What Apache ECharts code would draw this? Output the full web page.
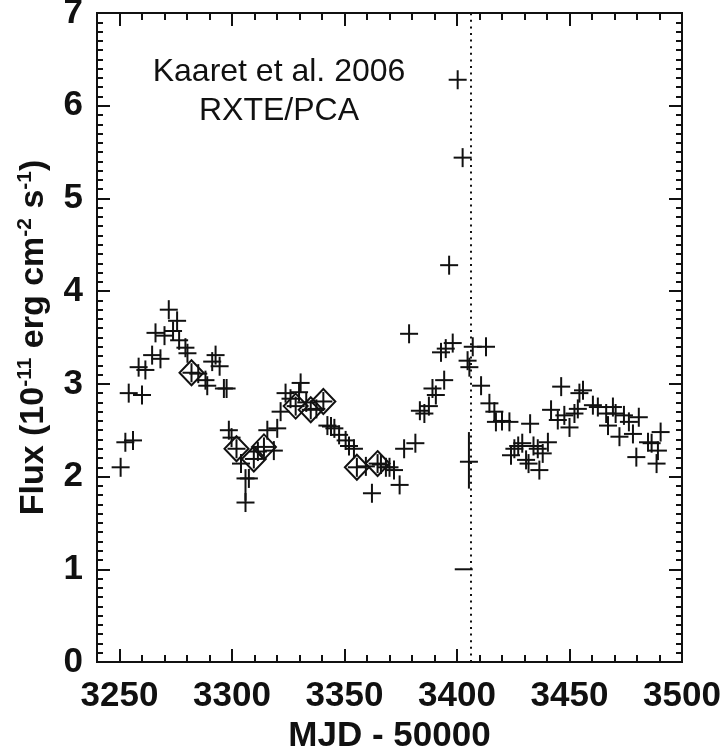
<!DOCTYPE html>
<html><head><meta charset="utf-8">
<script src="https://cdn.jsdelivr.net/npm/echarts@6/dist/echarts.min.js"></script>
<style>html,body{margin:0;padding:0;background:#fff}#c{width:724px;height:747px}</style>
</head><body><div id="c"></div>
<script>
// ---- data (MJD - 50000, flux in 1e-11 erg cm^-2 s^-1) ----
const mjd = [3250.5,3252.6,3254.1,3256.0,3258.5,3260.0,3261.5,3264.5,3266.0,3268.2,3270.0,3271.9,3273.8,3275.6,3276.5,3279.3,3280.2,3282.0,3285.0,3288.2,3289.0,3291.2,3292.7,3294.5,3296.4,3297.6,3298.6,3299.8,3302.0,3304.0,3307.5,3306.0,3309.7,3311.5,3314.2,3315.7,3318.6,3320.1,3321.6,3323.8,3326.0,3328.3,3329.8,3330.5,3333.0,3335.0,3337.5,3340.6,3342.4,3344.0,3345.5,3347.6,3350.5,3352.0,3354.2,3355.5,3359.5,3362.2,3364.7,3366.2,3368.4,3370.0,3372.0,3374.5,3376.5,3378.7,3381.5,3383.5,3385.5,3387.5,3389.1,3390.6,3392.9,3394.3,3395.0,3396.5,3398.1,3400.3,3402.5,3404.7,3405.5,3407.0,3410.7,3412.9,3414.4,3416.6,3417.3,3420.0,3423.3,3424.0,3425.5,3427.2,3429.0,3430.7,3431.8,3432.5,3434.0,3435.9,3436.6,3438.1,3440.4,3441.8,3444.8,3446.3,3447.7,3450.0,3452.2,3453.7,3454.4,3456.0,3460.4,3462.6,3466.3,3467.1,3469.3,3470.5,3472.2,3474.2,3476.4,3478.2,3479.7,3480.8,3484.9,3486.5,3488.7,3489.3,3490.5];
const flux = [2.10,2.37,2.90,2.39,3.18,2.88,3.15,3.31,3.55,3.27,3.52,3.80,3.57,3.68,3.47,3.39,3.33,3.12,3.11,3.04,2.98,3.24,3.31,3.19,2.95,2.95,2.50,2.42,2.30,2.14,1.98,1.72,2.19,2.27,2.32,2.50,2.28,2.52,2.70,2.90,2.84,2.76,2.91,3.01,2.80,2.72,2.73,2.81,2.55,2.54,2.52,2.45,2.39,2.33,2.30,2.10,2.11,1.82,2.14,2.13,2.10,2.10,2.07,1.91,2.30,3.54,2.36,2.71,2.68,2.76,2.95,2.88,3.34,3.04,3.38,4.28,3.44,6.28,5.44,3.25,3.18,3.40,2.98,3.40,2.79,2.70,2.59,2.60,2.59,2.23,2.30,2.33,2.36,2.18,2.14,2.57,2.33,2.30,2.07,2.25,2.37,2.72,2.61,2.97,2.66,2.53,2.68,2.73,2.90,2.93,2.77,2.75,2.68,2.55,2.75,2.68,2.43,2.66,2.59,2.46,2.21,2.64,2.37,2.36,2.14,2.28,2.48];
// points with a long vertical error bar
const errMjd  = [3306.0, 3405.3];
const errFlux = [1.98, 2.16];
const errLow  = [1.74, 1.87];
const errHigh = [2.08, 2.48];
// point shown with a horizontal bar only
const barMjd  = [3403.0];
const barFlux = [1.00];
// diamond-marked points
const diaMjd  = [3282.0, 3302.0, 3309.7, 3314.2, 3328.3, 3335.0, 3340.6, 3355.5, 3364.7];
const diaFlux = [3.12, 2.30, 2.19, 2.32, 2.76, 2.72, 2.81, 2.10, 2.14];
// vertical dotted line
const eventMjd = 3406;
// tick labels
const xTicks = [3250, 3300, 3350, 3400, 3450, 3500];

// ---- style ----
const INK = '#111';
const HW = 9, HH = 9.5;
const FONT = '"Liberation Sans", Arial, Helvetica, sans-serif';

function xAx(pos, major, labels) {
  const a = {
    type: 'value', min: 3240, max: 3500, interval: 10, position: pos,
    axisLine: {show: true, onZero: false, lineStyle: {color: INK, width: 2}},
    axisTick: {show: true, inside: true, length: major ? 13 : 7, lineStyle: {color: INK, width: 2}},
    axisLabel: {show: false},
    splitLine: {show: false}
  };
  if (major) a.axisTick.customValues = xTicks;
  if (labels) {
    a.axisLabel = {show: true, customValues: xTicks, formatter: v => String(Math.round(v)),
      fontFamily: FONT, fontWeight: 'bold', fontSize: 35, color: INK, margin: 17};
    a.name = 'MJD - 50000';
    a.nameLocation = 'middle';
    a.nameGap = 50;
    a.nameTextStyle = {fontFamily: FONT, fontWeight: 'bold', fontSize: 35, color: INK};
  }
  return a;
}
function yAx(pos, major, labels) {
  const a = {
    type: 'value', min: 0, max: 7, interval: major ? 1 : 0.1, position: pos,
    axisLine: {show: true, onZero: false, lineStyle: {color: INK, width: 2}},
    axisTick: {show: true, inside: true, length: major ? 13 : 6, lineStyle: {color: INK, width: 2}},
    axisLabel: {show: false},
    splitLine: {show: false}
  };
  if (labels) {
    a.axisLabel = {show: true, formatter: v => String(Math.round(v)),
      fontFamily: FONT, fontWeight: 'bold', fontSize: 35, color: INK, margin: 14};
    a.name = '{t|Flux (10}{s|-11}{t| erg cm}{s|-2}{t| s}{s|-1}{t|)}';
    a.nameLocation = 'middle';
    a.nameRotate = 90;
    a.nameGap = 45;
    a.nameTextStyle = {
      color: INK,
      rich: {
        t: {fontFamily: FONT, fontWeight: 'bold', fontSize: 34, color: INK},
        s: {fontFamily: FONT, fontWeight: 'bold', fontSize: 21, color: INK, verticalAlign: 'top', padding: [0, 0, 16, 0]}
      }
    };
  }
  return a;
}

function crossItem(params, api) {
  const c = api.coord([api.value(0), api.value(1)]);
  const st = {stroke: INK, lineWidth: 2};
  return {type: 'group', children: [
    {type: 'line', shape: {x1: c[0] - HW, y1: c[1], x2: c[0] + HW, y2: c[1]}, style: st},
    {type: 'line', shape: {x1: c[0], y1: c[1] - HH, x2: c[0], y2: c[1] + HH}, style: st}
  ]};
}
function errItem(params, api) {
  const c = api.coord([api.value(0), api.value(1)]);
  const lo = api.coord([api.value(0), api.value(2)]);
  const hi = api.coord([api.value(0), api.value(3)]);
  const st = {stroke: INK, lineWidth: 2};
  return {type: 'group', children: [
    {type: 'line', shape: {x1: c[0] - HW, y1: c[1], x2: c[0] + HW, y2: c[1]}, style: st},
    {type: 'line', shape: {x1: c[0], y1: hi[1], x2: c[0], y2: lo[1]}, style: st}
  ]};
}
function barItem(params, api) {
  const c = api.coord([api.value(0), api.value(1)]);
  return {type: 'line', shape: {x1: c[0] - HW, y1: c[1], x2: c[0] + HW, y2: c[1]}, style: {stroke: INK, lineWidth: 2}};
}

const chart = echarts.init(document.getElementById('c'), null, {renderer: 'canvas'});
chart.setOption({
  backgroundColor: '#fff',
  animation: false,
  grid: {left: 97, right: 42, top: 13, bottom: 85, containLabel: false, outerBoundsMode: 'none'},
  xAxis: [xAx('bottom', false, true), xAx('bottom', true, false), xAx('top', false, false), xAx('top', true, false)],
  yAxis: [yAx('left', true, true), yAx('left', false, false), yAx('right', true, false), yAx('right', false, false)],
  graphic: [
    {type: 'text', x: 279, y: 72, style: {text: 'Kaaret et al. 2006', font: '32px ' + FONT, fill: INK, textAlign: 'center', textVerticalAlign: 'middle'}},
    {type: 'text', x: 279, y: 111, style: {text: 'RXTE/PCA', font: '32px ' + FONT, fill: INK, textAlign: 'center', textVerticalAlign: 'middle'}}
  ],
  series: [
    {type: 'custom', xAxisIndex: 0, yAxisIndex: 0, renderItem: crossItem, clip: true,
      data: mjd.map((m, i) => [m, flux[i]])},
    {type: 'custom', xAxisIndex: 0, yAxisIndex: 0, renderItem: errItem, clip: true,
      data: errMjd.map((m, i) => [m, errFlux[i], errLow[i], errHigh[i]])},
    {type: 'custom', xAxisIndex: 0, yAxisIndex: 0, renderItem: barItem, clip: true,
      data: barMjd.map((m, i) => [m, barFlux[i]])},
    {type: 'scatter', xAxisIndex: 0, yAxisIndex: 0, symbol: 'diamond', symbolSize: [24, 25],
      itemStyle: {color: 'rgba(0,0,0,0)', borderColor: INK, borderWidth: 2, opacity: 1},
      data: diaMjd.map((m, i) => [m, diaFlux[i]]),
      markLine: {silent: true, symbol: 'none', label: {show: false},
        lineStyle: {color: INK, width: 2, type: [2, 4.6], opacity: 1},
        data: [{xAxis: eventMjd}]}
    }
  ]
});
</script>
</body></html>
